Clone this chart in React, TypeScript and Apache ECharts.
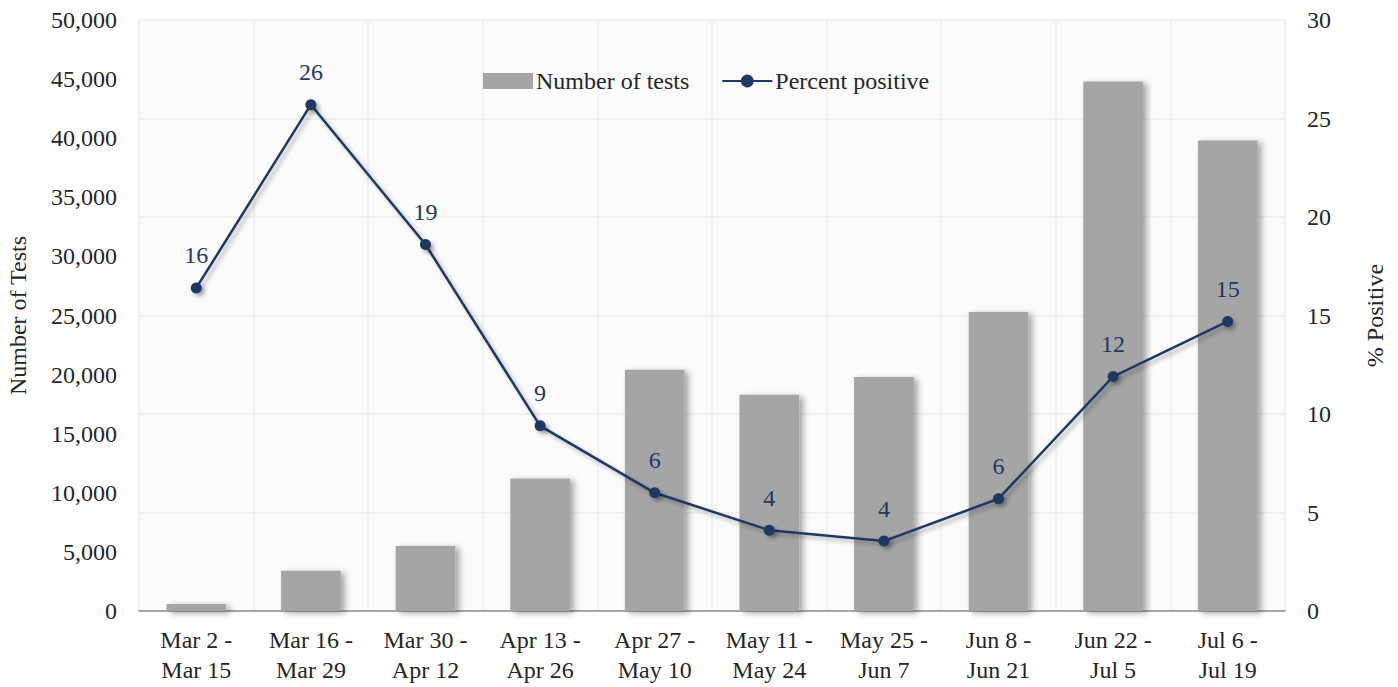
import React, { useEffect, useRef } from "react";
import * as echarts from "echarts";

const categories = [
  "Mar 2 -\nMar 15",
  "Mar 16 -\nMar 29",
  "Mar 30 -\nApr 12",
  "Apr 13 -\nApr 26",
  "Apr 27 -\nMay 10",
  "May 11 -\nMay 24",
  "May 25 -\nJun 7",
  "Jun 8 -\nJun 21",
  "Jun 22 -\nJul 5",
  "Jul 6 -\nJul 19",
];
const numberOfTests = [600, 3400, 5500, 11200, 20400, 18300, 19800, 25300, 44800, 39800];
const percentPositive = [16.4, 25.7, 18.6, 9.4, 6.0, 4.1, 3.55, 5.7, 11.9, 14.7];

const FONT = "'Liberation Serif', 'DejaVu Serif', serif";
const NAVY = "#1f3864";
const TEXT = "#262626";

export default function App() {
  const ref = useRef<HTMLDivElement>(null);
  useEffect(() => {
    document.body.style.margin = "0";
    const chart = echarts.init(ref.current!, null, { renderer: "svg" });
    chart.setOption({
      animation: false,
      textStyle: { fontFamily: FONT },
      legend: {
        left: 478,
        top: 64,
        itemWidth: 50,
        itemHeight: 16,
        itemGap: 32,
        textStyle: { fontFamily: FONT, fontSize: 24, color: TEXT, padding: [0, 0, 0, -2] },
        data: [
          { name: "Number of tests", icon: "rect" },
          { name: "Percent positive" },
        ],
      },
      grid: {
        left: 139,
        right: 113,
        top: 20,
        bottom: 76,
        outerBoundsMode: "none",
        containLabel: false,
        show: true,
        backgroundColor: "#fbfbfb",
        borderWidth: 0,
      },
      xAxis: {
        type: "category",
        data: categories,
        boundaryGap: true,
        axisLine: { lineStyle: { color: "#8c8c8c", width: 1.5 } },
        axisTick: { show: false },
        splitLine: { show: true, lineStyle: { color: "#ececec", width: 1.5 } },
        axisLabel: {
          fontFamily: FONT,
          fontSize: 24,
          color: TEXT,
          lineHeight: 30,
          margin: 14,
          interval: 0,
        },
      },
      yAxis: [
        {
          type: "value",
          min: 0,
          max: 50000,
          interval: 5000,
          name: "Number of Tests",
          nameLocation: "middle",
          nameGap: 109,
          nameRotate: 90,
          nameTextStyle: { fontFamily: FONT, fontSize: 24, color: TEXT },
          axisLine: { show: false },
          axisTick: { show: false },
          splitLine: { show: false },
          axisLabel: {
            fontFamily: FONT,
            fontSize: 24,
            color: TEXT,
            margin: 22,
            formatter: (v: number) => v.toLocaleString("en-US"),
          },
        },
        {
          type: "value",
          min: 0,
          max: 30,
          interval: 5,
          name: "% Positive",
          nameLocation: "middle",
          nameGap: 78,
          nameRotate: 90,
          nameTextStyle: { fontFamily: FONT, fontSize: 24, color: TEXT },
          axisLine: { show: false },
          axisTick: { show: false },
          splitLine: { show: true, lineStyle: { color: "#ececec", width: 1.5 } },
          axisLabel: { fontFamily: FONT, fontSize: 24, color: TEXT, margin: 22 },
        },
      ],
      series: [
        {
          name: "Number of tests",
          type: "bar",
          data: numberOfTests,
          yAxisIndex: 0,
          barWidth: "52%",
          itemStyle: {
            color: "#a5a5a5",
            shadowColor: "rgba(0,0,0,0.35)",
            shadowBlur: 6,
            shadowOffsetX: 4,
            shadowOffsetY: 2,
          },
        },
        {
          name: "Percent positive",
          type: "line",
          data: percentPositive,
          yAxisIndex: 1,
          symbol: "circle",
          symbolSize: 11,
          lineStyle: {
            color: NAVY,
            width: 2.5,
            shadowColor: "rgba(0,0,0,0.3)",
            shadowBlur: 4,
            shadowOffsetX: 3,
            shadowOffsetY: 3,
          },
          itemStyle: {
            color: NAVY,
            shadowColor: "rgba(0,0,0,0.3)",
            shadowBlur: 4,
            shadowOffsetX: 3,
            shadowOffsetY: 3,
          },
          label: {
            show: true,
            position: "top",
            distance: 15,
            fontFamily: FONT,
            fontSize: 24,
            color: NAVY,
            formatter: (p: any) => String(Math.round(p.value)),
          },
        },
      ],
    });
    return () => chart.dispose();
  }, []);
  return <div ref={ref} style={{ width: 1398, height: 687 }} />;
}
